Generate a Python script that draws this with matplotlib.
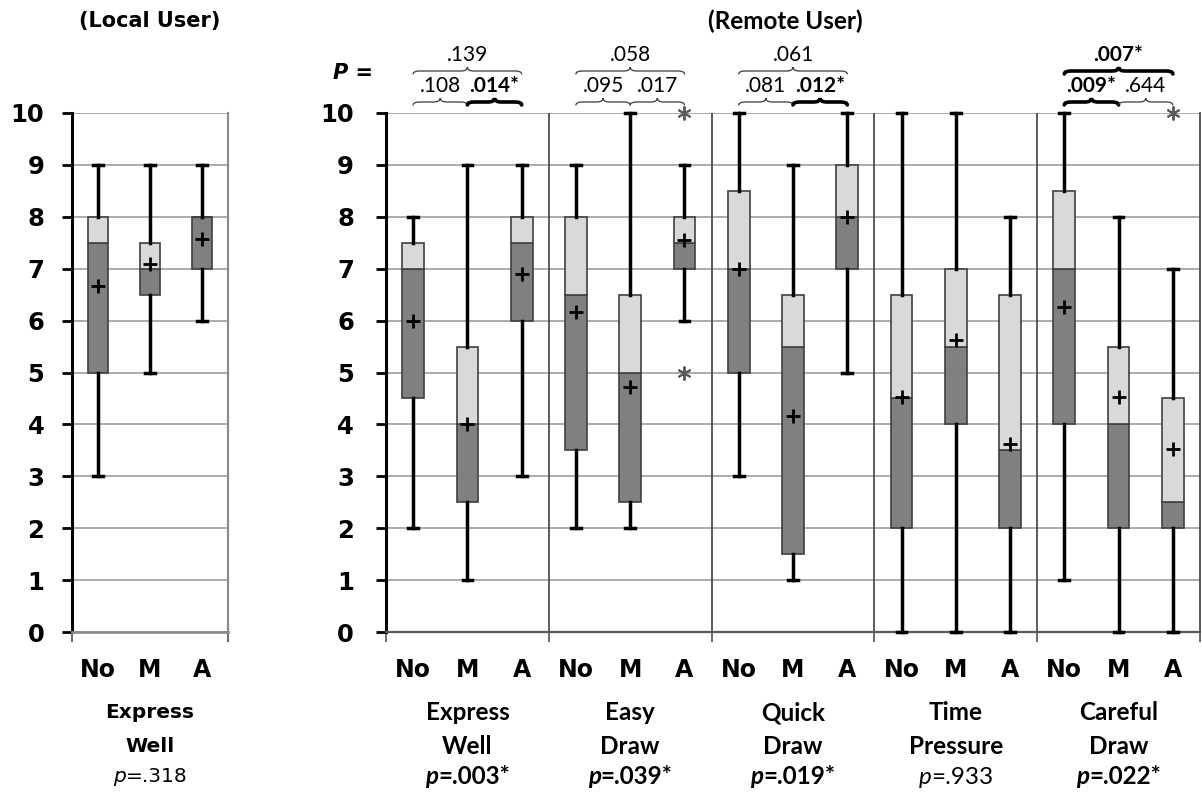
import matplotlib
matplotlib.use("Agg")
import matplotlib.pyplot as plt
from matplotlib.path import Path
from matplotlib.patches import PathPatch
import matplotlib.transforms as mtransforms

# ---------------- data ----------------
conditions = ["No", "M", "A"]

local_group = "Express\nWell"
local_p = ".318"
local_min = [3, 5, 6]
local_q1 = [5, 6.5, 7]
local_med = [7.5, 7, 8]
local_q3 = [8, 7.5, 8]
local_max = [9, 9, 9]
local_mean = [6.67, 7.1, 7.57]
local_fliers = [[], [], []]

remote_groups = ["Express\nWell", "Easy\nDraw", "Quick\nDraw", "Time\nPressure", "Careful\nDraw"]
remote_p = [".003*", ".039*", ".019*", ".933", ".022*"]
remote_min = [2, 1, 3, 2, 2, 6, 3, 1, 5, 0, 0, 0, 1, 0, 0]
remote_q1 = [4.5, 2.5, 6, 3.5, 2.5, 7, 5, 1.5, 7, 2, 4, 2, 4, 2, 2]
remote_med = [7, 4, 7.5, 6.5, 5, 7.5, 7, 5.5, 8, 4.5, 5.5, 3.5, 7, 4, 2.5]
remote_q3 = [7.5, 5.5, 8, 8, 6.5, 8, 8.5, 6.5, 9, 6.5, 7, 6.5, 8.5, 5.5, 4.5]
remote_max = [8, 9, 9, 9, 10, 9, 10, 9, 10, 10, 10, 8, 10, 8, 7]
remote_mean = [6.0, 4.0, 6.9, 6.17, 4.72, 7.55, 7.0, 4.17, 8.0, 4.52, 5.63, 3.63, 6.27, 4.52, 3.53]
remote_fliers = [[], [], [], [], [], [10, 5], [], [], [], [], [], [], [], [], [10]]

# pairwise p values (No vs M, M vs A, No vs A) per remote group
pair_nm = [".108", ".095", ".081", "", ".009*"]
pair_ma = [".014*", ".017", ".012*", "", ".644"]
pair_na = [".139", ".058", ".061", "", ".007*"]

# ---------------- layout ----------------
W, H = 1202, 796
fig = plt.figure(figsize=(W / 100, H / 100), dpi=100)
Y0, Y10 = 632, 113
axL = fig.add_axes([72 / W, 1 - Y0 / H, 156 / W, (Y0 - Y10) / H])
axR = fig.add_axes([386 / W, 1 - Y0 / H, 814 / W, (Y0 - Y10) / H])

DARK = "#808080"
LIGHT = "#d9d9d9"
EDGE = "#404040"
GRID = "#a6a6a6"
SANS2 = "Lato"


def yfrac(py):
    return (Y0 - py) / (Y0 - Y10)


def setup(ax, ngroups, ypad):
    ax.set_xlim(0, 3 * ngroups)
    ax.set_ylim(0, 10)
    ax.set_yticks(range(0, 11))
    ax.tick_params(axis="y", direction="out", length=7, width=2, pad=ypad,
                   labelsize=17.5, colors="black")
    for lab in ax.get_yticklabels():
        lab.set_fontweight("bold")
        lab.set_family("DejaVu Sans")
    ax.yaxis.grid(True, color=GRID, lw=1.3)
    ax.set_axisbelow(True)
    ax.spines["top"].set_visible(False)
    ax.spines["left"].set_color("black")
    ax.spines["left"].set_linewidth(2.2)
    ax.set_xticks([3 * g for g in range(ngroups + 1)])
    ax.set_xticklabels([])
    pos = [3 * g + 0.5 + i for g in range(ngroups) for i in range(3)]
    ax.set_xticks(pos, minor=True)
    ax.set_xticklabels(conditions * ngroups, minor=True, fontsize=17,
                       fontweight="bold", family="DejaVu Sans")
    ax.tick_params(axis="x", which="minor", length=0, pad=19)
    ax.tick_params(axis="x", which="major", length=7, width=1.2,
                   direction="out", colors="#505050")
    return pos


def draw_boxes(ax, pos, q1, med, q3, lo, hi, mean, fliers, capw):
    h1 = [m - a for m, a in zip(med, q1)]
    h2 = [b - m for b, m in zip(q3, med)]
    ax.bar(pos, h1, bottom=q1, width=0.4, color=DARK, edgecolor=EDGE,
           linewidth=1.2, zorder=3)
    ax.bar(pos, h2, bottom=med, width=0.4, color=LIGHT, edgecolor=EDGE,
           linewidth=1.2, zorder=3)
    stats = [dict(med=m, q1=a, q3=b, whislo=l, whishi=h, mean=mn, fliers=f)
             for m, a, b, l, h, mn, f in zip(med, q1, q3, lo, hi, mean, fliers)]
    art = ax.bxp(stats, positions=pos, widths=0.4, showbox=False,
                 showmeans=True, showfliers=True, manage_ticks=False,
                 capwidths=capw, zorder=4,
                 whiskerprops=dict(color="black", lw=2.5),
                 capprops=dict(color="black", lw=2.5),
                 medianprops=dict(linestyle="none"),
                 meanprops=dict(marker="+", markeredgecolor="black",
                                markersize=10, markeredgewidth=2),
                 flierprops=dict(marker=(6, 2, 0), markeredgecolor="#5a5a5a",
                                 markerfacecolor="none", markersize=10,
                                 markeredgewidth=1.4))
    for key in art:
        for a in art[key]:
            a.set_clip_on(False)


posL = setup(axL, 1, 13)
posR = setup(axR, 5, 16)

axL.spines["bottom"].set_color("#8c8c8c")
axL.spines["bottom"].set_linewidth(2)
axL.spines["right"].set_color("#8c8c8c")
axL.spines["right"].set_linewidth(1.6)
axR.spines["bottom"].set_color("#595959")
axR.spines["bottom"].set_linewidth(1.6)
axR.spines["right"].set_color(EDGE)
axR.spines["right"].set_linewidth(1.2)
for g in range(1, 5):
    axR.axvline(3 * g, color=EDGE, lw=1.2, zorder=1)

draw_boxes(axL, posL, local_q1, local_med, local_q3, local_min, local_max,
           local_mean, local_fliers, 0.19)
draw_boxes(axR, posR, remote_q1, remote_med, remote_q3, remote_min, remote_max,
           remote_mean, remote_fliers, 0.18)


# ---------------- braces ----------------
def brace(ax, x0, x1, ye, yb, yt, bold):
    tr = mtransforms.blended_transform_factory(ax.transData, ax.transAxes)
    d = 0.12
    xm = (x0 + x1) / 2
    ye, yb, yt = yfrac(ye), yfrac(yb), yfrac(yt)
    verts = [(x0, ye), (x0, yb), (x0 + d, yb), (xm - d, yb), (xm, yb), (xm, yt),
             (xm, yb), (xm + d, yb), (x1 - d, yb), (x1, yb), (x1, ye)]
    codes = [Path.MOVETO, Path.CURVE3, Path.CURVE3, Path.LINETO, Path.CURVE3,
             Path.CURVE3, Path.CURVE3, Path.CURVE3, Path.LINETO, Path.CURVE3,
             Path.CURVE3]
    patch = PathPatch(Path(verts, codes), fill=False,
                      lw=2.6 if bold else 0.9,
                      edgecolor="black" if bold else "#3a3a3a",
                      transform=tr, clip_on=False, capstyle="round")
    ax.add_patch(patch)


def ptxt(ax, x, py, s, size=15):
    tr = mtransforms.blended_transform_factory(ax.transData, ax.transAxes)
    ax.text(x, yfrac(py), s, transform=tr, ha="center", va="center",
            fontsize=size, family=SANS2,
            fontweight="bold" if "*" in s else "normal", clip_on=False)


for g in range(5):
    pNo, pM, pA = posR[3 * g], posR[3 * g + 1], posR[3 * g + 2]
    if pair_nm[g]:
        brace(axR, pNo, pM, 105, 102, 98, "*" in pair_nm[g])
        ptxt(axR, (pNo + pM) / 2, 86, pair_nm[g])
    if pair_ma[g]:
        brace(axR, pM, pA, 105, 102, 98, "*" in pair_ma[g])
        ptxt(axR, (pM + pA) / 2, 86, pair_ma[g])
    if pair_na[g]:
        brace(axR, pNo, pA, 74, 71, 67, "*" in pair_na[g])
        ptxt(axR, pM, 55, pair_na[g])

fig.text(353 / W, 1 - 73 / H, "P =", ha="center", va="center", fontsize=15,
         fontweight="bold", style="italic", family="DejaVu Sans")

# ---------------- titles ----------------
fig.text(150 / W, 1 - 21 / H, "(Local User)", ha="center", va="center",
         fontsize=15, fontweight="bold", family="DejaVu Sans")
fig.text(785 / W, 1 - 21 / H, "(Remote User)", ha="center", va="center",
         fontsize=17.5, fontweight="bold", family=SANS2)

# ---------------- group labels ----------------
renderer = fig.canvas.get_renderer()


def group_label(ax, xc, name, pval, fam, size, psize, pbold):
    tr = mtransforms.blended_transform_factory(ax.transData, ax.transAxes)
    l1, l2 = name.split("\n")
    ax.text(xc, yfrac(713), l1, transform=tr, ha="center", va="center",
            fontsize=size, fontweight="bold", family=fam, clip_on=False)
    ax.text(xc, yfrac(746), l2, transform=tr, ha="center", va="center",
            fontsize=size, fontweight="bold", family=fam, clip_on=False)
    w = "bold" if pbold else "normal"
    t1 = ax.text(xc, yfrac(777), "p", transform=tr, ha="left", va="center",
                 fontsize=psize, fontweight=w, style="italic", family=fam)
    t2 = ax.text(xc, yfrac(777), "=" + pval, transform=tr, ha="left",
                 va="center", fontsize=psize, fontweight=w, family=fam)
    w1 = t1.get_window_extent(renderer).width
    w2 = t2.get_window_extent(renderer).width
    xpx = ax.transData.transform((xc, 0))[0]
    left = xpx - (w1 + w2) / 2
    inv = ax.transData.inverted()
    t1.set_x(inv.transform((left, 0))[0])
    t2.set_x(inv.transform((left + w1, 0))[0])


group_label(axL, 1.5, local_group, local_p, "DejaVu Sans", 14.5, 14.5, False)
for g in range(5):
    group_label(axR, 3 * g + 1.5, remote_groups[g], remote_p[g], SANS2, 17.5,
                17.5, "*" in remote_p[g])

fig.savefig("out.png", dpi=100)
